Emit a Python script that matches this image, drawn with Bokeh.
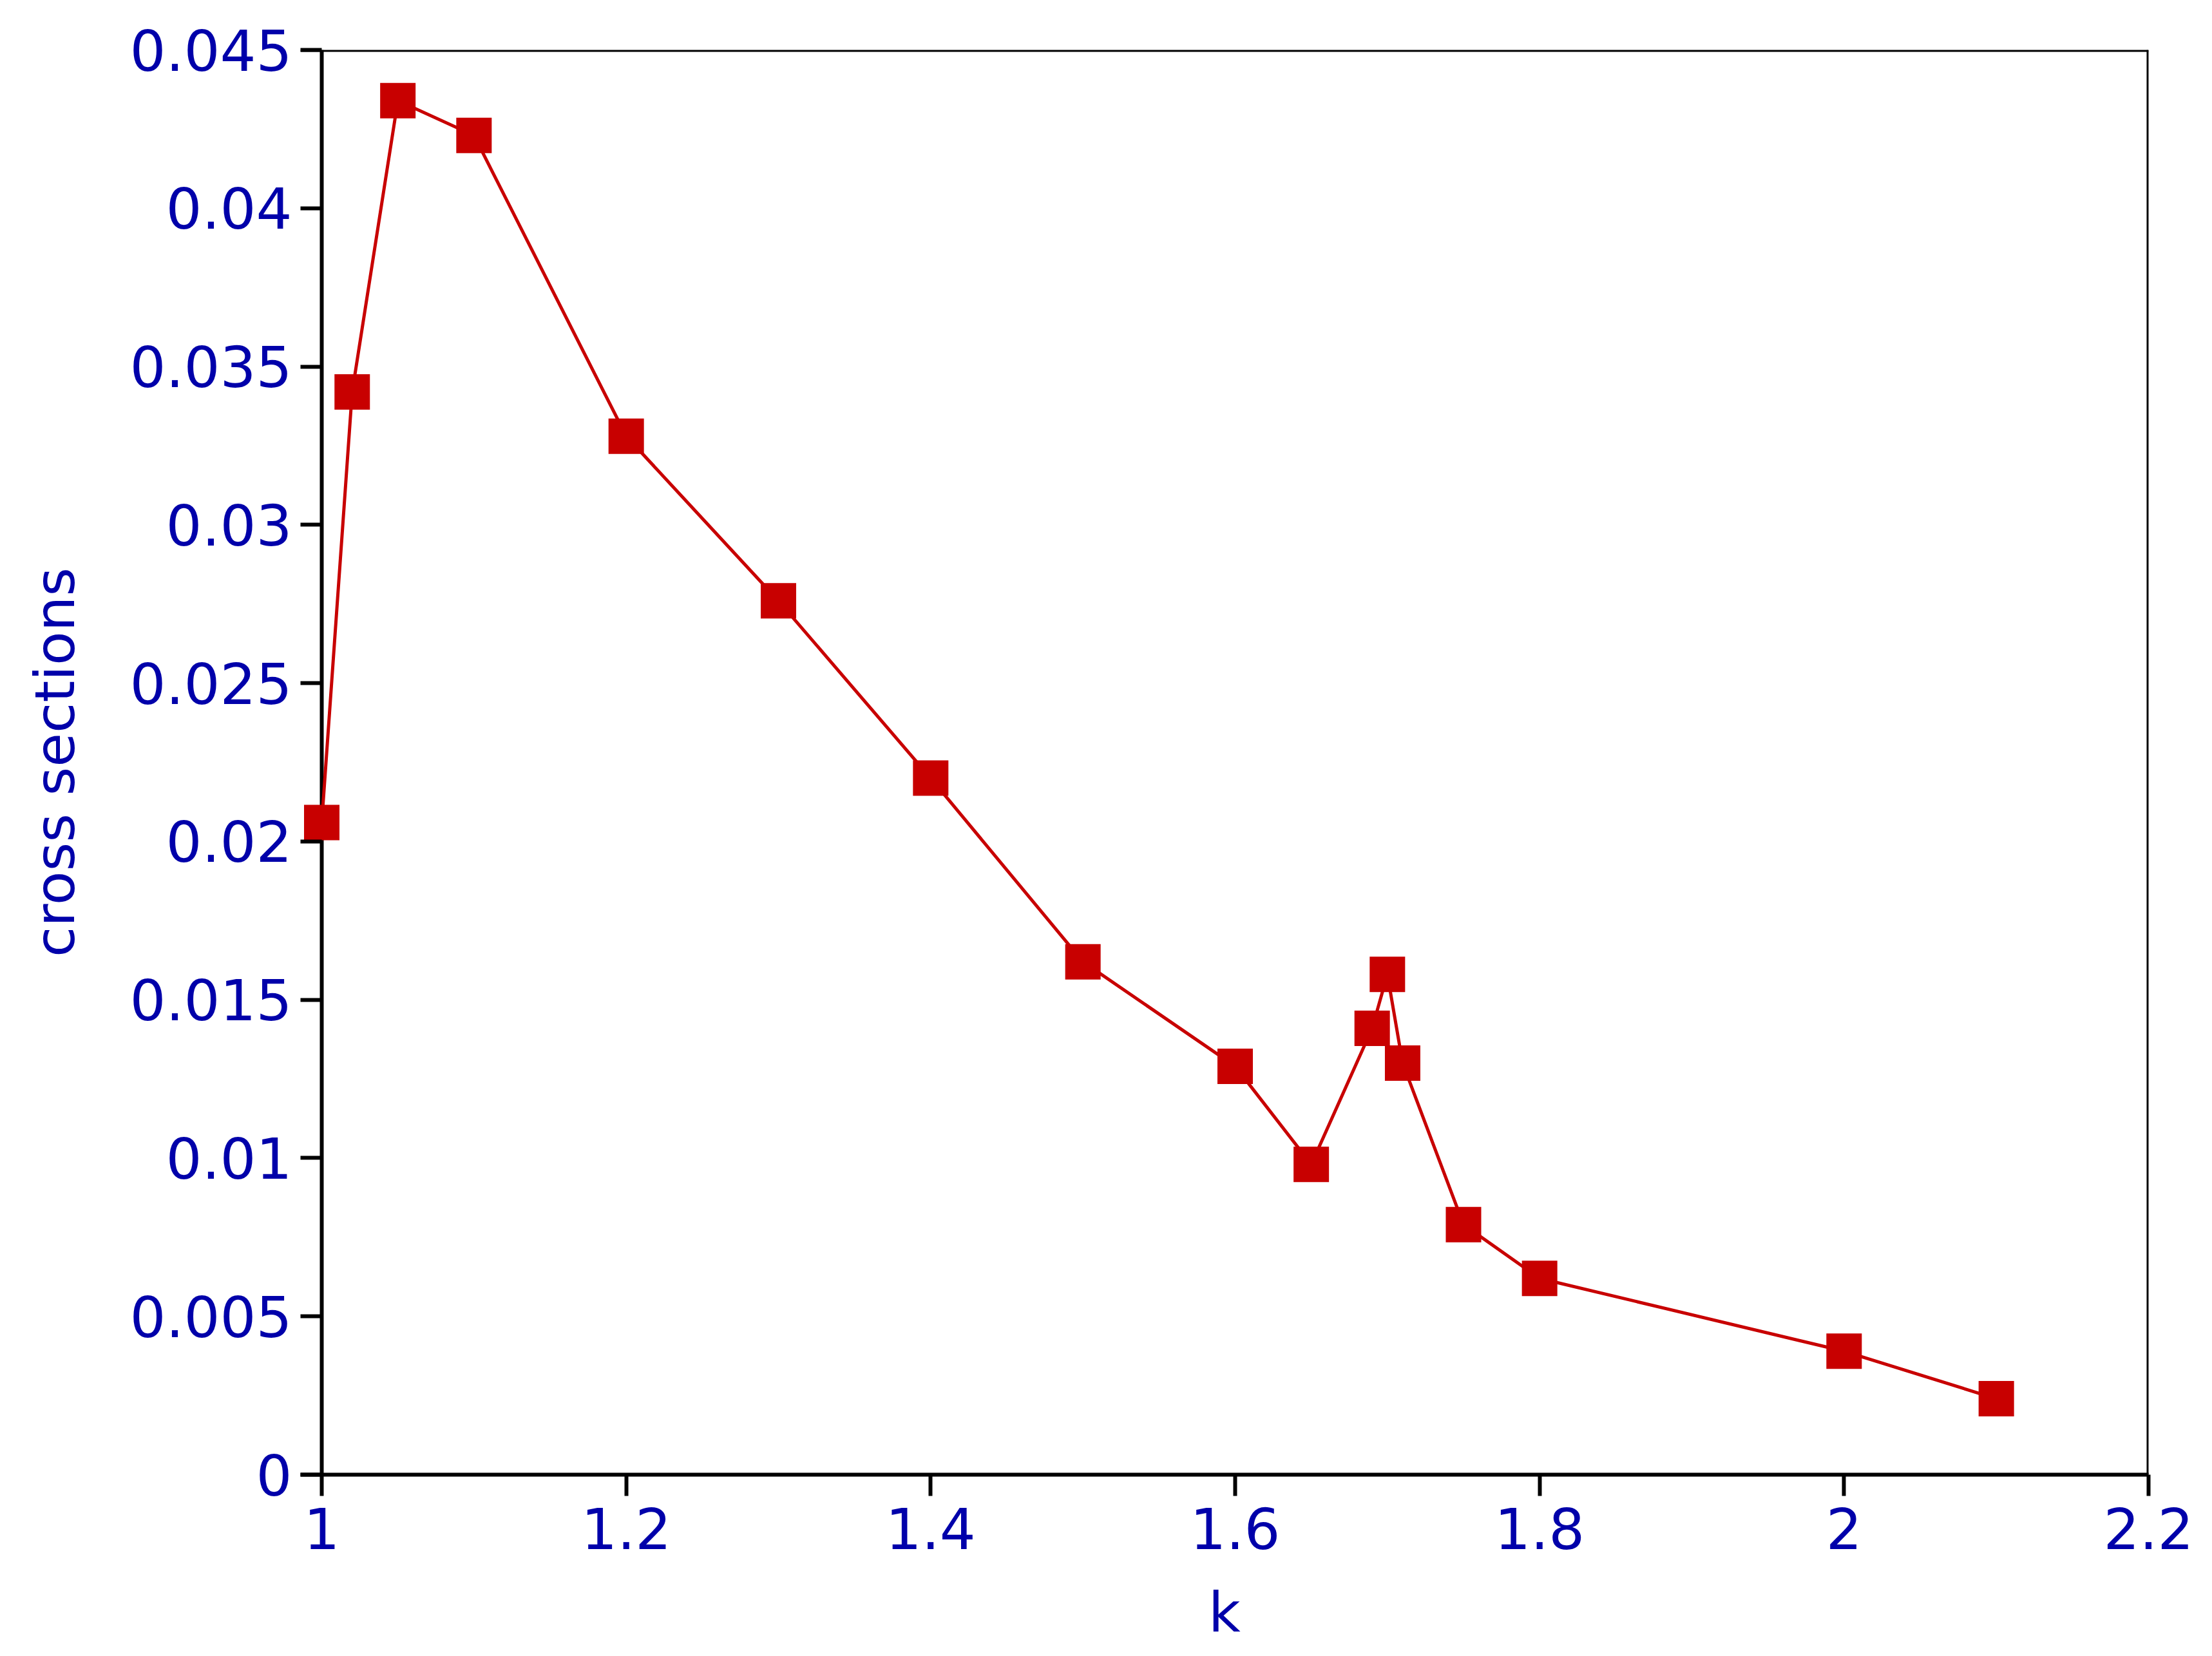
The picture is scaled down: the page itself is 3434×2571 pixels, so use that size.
from bokeh.plotting import figure
from bokeh.models import Range1d, FixedTicker, Span
from bokeh.embed import file_html
from bokeh.resources import INLINE

# Data
k_values = [1.0, 1.02, 1.05, 1.1, 1.2, 1.3, 1.4, 1.5, 1.6, 1.65, 1.69, 1.7, 1.71, 1.75, 1.8, 2.0, 2.1]
cross_sections = [0.0206, 0.0342, 0.0434, 0.0423, 0.0328, 0.0276, 0.0220, 0.0162, 0.0129, 0.0098,
                  0.0141, 0.0158, 0.0130, 0.0079, 0.0062, 0.0039, 0.0024]

x_ticks = [1.0, 1.2, 1.4, 1.6, 1.8, 2.0, 2.2]
x_tick_labels = ["1", "1.2", "1.4", "1.6", "1.8", "2", "2.2"]
y_ticks = [0.0, 0.005, 0.01, 0.015, 0.02, 0.025, 0.03, 0.035, 0.04, 0.045]
y_tick_labels = ["0", "0.005", "0.01", "0.015", "0.02", "0.025", "0.03", "0.035", "0.04", "0.045"]

x_min, x_max = x_ticks[0], x_ticks[-1]
y_min, y_max = y_ticks[0], y_ticks[-1]

BLUE = "#0000AA"
RED = "#C80000"
FONT = "DejaVu Sans"
TICK = 33
LW = 6
FRAME_W = 2869
# extend the frame to the left by one tick length so the first marker is not clipped;
# the visible left border is drawn at x_min
x_start = x_min - TICK * (x_max - x_min) / (FRAME_W - TICK)

p = figure(
    frame_width=FRAME_W, frame_height=2212,
    min_border_left=466, min_border_right=90, min_border_top=77, min_border_bottom=270,
    x_range=Range1d(x_start, x_max), y_range=Range1d(y_min, y_max),
    output_backend="svg", toolbar_location=None,
    background_fill_color="white", border_fill_color="white",
)
p.xgrid.visible = False
p.ygrid.visible = False
p.outline_line_color = None

# box borders
for loc, dim in ((x_min, "height"), (x_max, "height"), (y_max, "width")):
    p.add_layout(Span(location=loc, dimension=dim, line_color="black", line_width=LW, level="underlay"))

p.line(k_values, cross_sections, line_color=RED, line_width=5)
p.scatter(k_values, cross_sections, marker="square", size=55, fill_color=RED, line_color=None)

for ax, ticks, labels in ((p.xaxis[0], x_ticks, x_tick_labels), (p.yaxis[0], y_ticks, y_tick_labels)):
    ax.ticker = FixedTicker(ticks=ticks)
    ax.major_label_overrides = {t: l for t, l in zip(ticks, labels)}
    ax.axis_line_color = "black"
    ax.axis_line_width = LW
    ax.major_tick_line_color = "black"
    ax.major_tick_line_width = LW
    ax.minor_tick_line_color = None
    ax.major_label_text_color = BLUE
    ax.major_label_text_font = FONT
    ax.major_label_text_font_size = "88px"
    ax.axis_label_text_color = BLUE
    ax.axis_label_text_font = FONT
    ax.axis_label_text_font_size = "86px"
    ax.axis_label_text_font_style = "normal"

p.xaxis.major_tick_out = TICK
p.xaxis.major_tick_in = 0
p.yaxis.axis_line_color = None
p.yaxis.major_tick_out = 0
p.yaxis.major_tick_in = TICK

p.xaxis.axis_label = "k"
p.yaxis.axis_label = "cross sections"
p.xaxis.major_label_standoff = 18
p.yaxis.major_label_standoff = 13
p.xaxis.axis_label_standoff = 45
p.yaxis.axis_label_standoff = 64

open("out.html", "w").write(file_html(p, INLINE))
